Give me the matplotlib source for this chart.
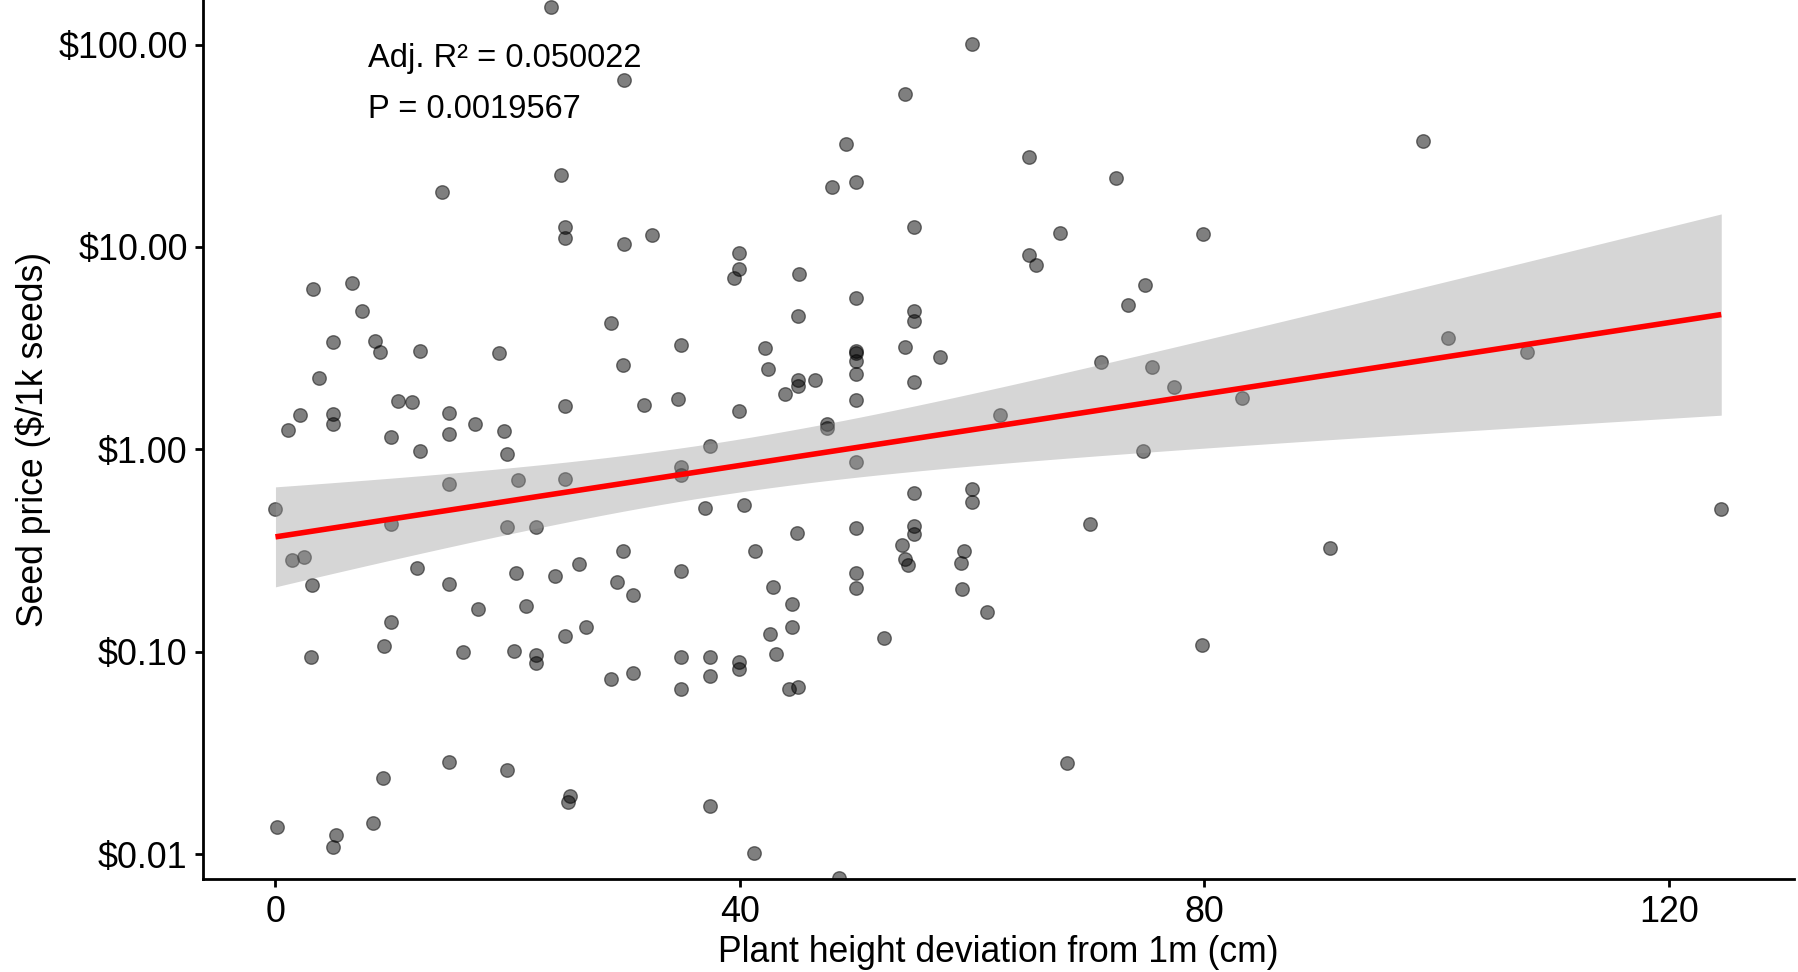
import numpy as np
import matplotlib
matplotlib.use('Agg')
import matplotlib.pyplot as plt
from matplotlib.ticker import FixedLocator, FixedFormatter

# Plant height deviation from 1m (cm) and seed price ($ per 1000 seeds)
height = [14.35, 3.2, 6.57,
          23.75, 30.0, 49.1, 24.6, 47.9, 24.98, 24.98, 30.0, 32.46, 39.93, 39.93, 39.5, 45.1,
          59.95, 54.2, 49.96, 64.9, 72.4, 54.97, 67.6, 64.9, 65.5, 74.9, 49.96, 73.4,
          98.84, 79.9, 101.0, 107.8, 77.4, 83.2, 75.52,
          79.75, 90.8, 124.5,
          7.48, 4.99, 8.55, 9.03, 12.47, 19.25, 3.76, 10.55, 11.78, 2.1, 4.99, 4.99, 1.1,
          14.99, 17.16, 19.68, 9.95, 14.99, 12.47, 19.97, 14.99, 20.89, 0.01, 9.95, 19.97,
          1.44, 2.5, 12.16, 20.75, 3.14, 14.99,
          28.93, 44.97, 34.95, 29.95, 42.14, 42.45, 44.97, 44.97, 46.43, 43.86, 24.98, 31.74,
          34.63, 39.93, 47.47, 47.47, 37.44, 24.98, 34.95, 34.95, 36.98, 40.33, 22.47, 44.94,
          29.97, 41.28, 26.13, 24.12, 29.45, 34.95, 42.88, 30.76,
          54.97, 54.97, 49.96, 49.96, 49.96, 49.96, 49.96, 54.22, 57.26, 54.97, 71.06, 62.44,
          74.67, 49.96, 54.97, 59.95, 59.95, 49.96, 54.97, 54.97, 70.11, 53.96, 54.22, 54.48,
          59.29, 59.06, 49.96, 49.96, 59.12,
          17.48, 21.6, 9.95, 9.38, 3.08, 16.16, 20.54, 14.99, 19.97, 9.23, 0.18, 8.38, 5.2, 4.99,
          44.46, 26.73, 24.98, 44.46, 42.57, 22.47, 22.47, 34.95, 37.44, 37.44, 34.95, 39.93,
          39.93, 43.11, 28.93, 30.76, 44.25, 44.97, 25.33, 25.2, 37.41, 41.22, 48.52,
          61.3, 52.45, 68.17]
price = [18.6, 6.23, 6.63,
         154, 66.7, 32.2, 22.7, 19.7, 12.6, 11.1, 10.4, 11.4, 9.3, 7.77, 7.0, 7.36,
         100.5, 56.9, 20.9, 27.7, 22.0, 12.6, 11.7, 9.1, 8.1, 6.48, 5.6, 5.14,
         33.2, 11.6, 3.54, 3.02, 2.04, 1.79, 2.56,
         0.1086, 0.325, 0.51,
         4.8, 3.41, 3.44, 3.03, 3.06, 2.99, 2.26, 1.74, 1.72, 1.475, 1.5, 1.33, 1.24,
         1.51, 1.33, 1.23, 1.15, 1.19, 0.976, 0.946, 0.676, 0.707, 0.51, 0.427, 0.413,
         0.284, 0.293, 0.258, 0.245, 0.213, 0.216,
         4.2, 4.58, 3.27, 2.61, 3.18, 2.49, 2.19, 2.06, 2.2, 1.88, 1.63, 1.65,
         1.78, 1.55, 1.33, 1.28, 1.04, 0.715, 0.817, 0.748, 0.513, 0.532, 0.413, 0.384,
         0.315, 0.313, 0.272, 0.237, 0.222, 0.252, 0.208, 0.191,
         4.85, 4.33, 3.07, 3.0, 2.72, 2.35, 1.76, 3.22, 2.85, 2.15, 2.7, 1.48,
         0.98, 0.87, 0.608, 0.636, 0.548, 0.41, 0.42, 0.381, 0.427, 0.337, 0.287, 0.268,
         0.313, 0.274, 0.245, 0.207, 0.205,
         0.163, 0.169, 0.141, 0.107, 0.094, 0.100, 0.101, 0.0286, 0.026, 0.0239, 0.0137,
         0.0143, 0.0124, 0.0108,
         0.172, 0.132, 0.12, 0.132, 0.122, 0.096, 0.0885, 0.094, 0.094, 0.076, 0.0653, 0.0895,
         0.082, 0.0977, 0.0737, 0.0787, 0.0656, 0.0673, 0.0193, 0.0182, 0.0173, 0.0101, 0.0076,
         0.158, 0.117, 0.0282]

x_ticks = [0, 40, 80, 120]
y_ticks = [0.01, 0.1, 1, 10, 100]
y_tick_labels = ['$0.01', '$0.10', '$1.00', '$10.00', '$100.00']
stats_lines = ['Adj. R\u00b2 = 0.050022', 'P = 0.0019567']


def linear_fit_band(x, y_log, n_grid=80, t_crit=1.974):
    """
    Least squares line of log10(price) on height with a 95% confidence band.

    Returns:
    - grid, fitted line, lower band, upper band (all in price units)
    """
    x = np.asarray(x, dtype=float)
    slope, intercept = np.polyfit(x, y_log, 1)
    resid = y_log - (intercept + slope * x)
    n = len(x)
    s = np.sqrt(np.sum(resid ** 2) / (n - 2))
    sxx = np.sum((x - x.mean()) ** 2)

    grid = np.linspace(x.min(), x.max(), n_grid)
    fit = intercept + slope * grid
    se = s * np.sqrt(1.0 / n + (grid - x.mean()) ** 2 / sxx)
    return grid, 10 ** fit, 10 ** (fit - t_crit * se), 10 ** (fit + t_crit * se)


plt.rcParams['font.family'] = ['Liberation Sans', 'DejaVu Sans']

fig = plt.figure(figsize=(17.98, 9.72), dpi=100)
ax = fig.add_axes([0.1129, 0.0952, 0.8851, 0.9048])

# Points first, the smoother's ribbon sits on top of them (as in ggplot)
ax.scatter(height, price, s=95, color='black', alpha=0.5, linewidths=1.0,
           edgecolors='black', zorder=2, clip_on=True)

grid, fit, lower, upper = linear_fit_band(height, np.log10(price))
ax.fill_between(grid, lower, upper, color='#999999', alpha=0.4, linewidth=0, zorder=3)
ax.plot(grid, fit, color='red', linewidth=4, zorder=4, solid_capstyle='butt')

ax.set_yscale('log')
ax.set_xlim(-6.23, 130.8)
ax.set_ylim(0.0075, 166)

ax.yaxis.set_major_locator(FixedLocator(y_ticks))
ax.yaxis.set_major_formatter(FixedFormatter(y_tick_labels))
ax.yaxis.set_minor_locator(FixedLocator([]))
ax.set_xticks(x_ticks)

ax.set_xlabel('Plant height deviation from 1m (cm)', fontsize=25.6, labelpad=4)
ax.set_ylabel('Seed price ($/1k seeds)', fontsize=25.6, labelpad=5)

# Classic theme: only left and bottom axis lines, no grid
for side in ['top', 'right']:
    ax.spines[side].set_visible(False)
for side in ['left', 'bottom']:
    ax.spines[side].set_linewidth(2)
ax.tick_params(axis='both', which='major', length=6, width=2, pad=5,
               labelsize=25.8, colors='black')

# Model summary (top left)
ax.text(0.1037, 0.933, stats_lines[0], transform=ax.transAxes, fontsize=23.5,
        ha='left', va='center')
ax.text(0.1037, 0.875, stats_lines[1], transform=ax.transAxes, fontsize=23.5,
        ha='left', va='center')

fig.savefig('out.png', dpi=100)
